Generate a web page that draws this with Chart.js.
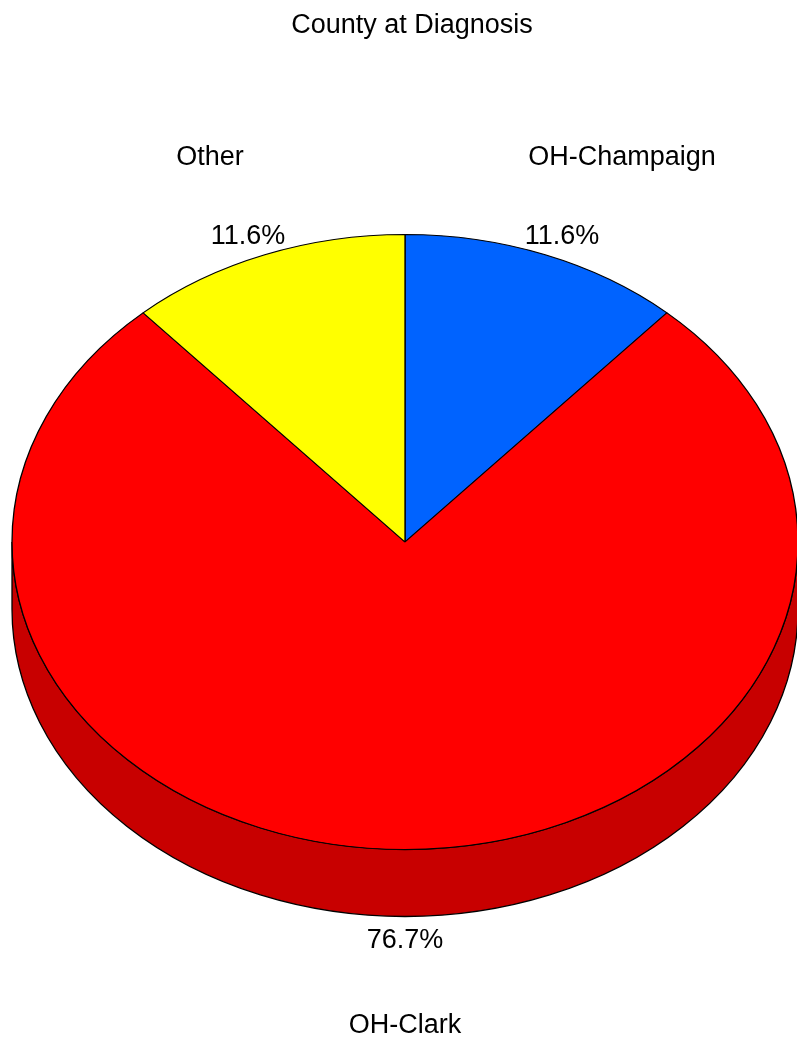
<!DOCTYPE html>
<html>
<head>
<meta charset="utf-8">
<script src="https://cdn.jsdelivr.net/npm/chart.js@4"></script>
<style>
  html, body { margin:0; padding:0; background:#fff; overflow:hidden; }
  #wrap { width:820px; height:1039px; }
</style>
</head>
<body>
<div id="wrap"><canvas id="c" width="820" height="1039"></canvas></div>
<script>
const titleText = 'County at Diagnosis';
const categories = ['OH-Champaign', 'OH-Clark', 'Other'];
const percents = [11.6, 76.7, 11.6];
const topColors = ['#0063FF', '#FF0000', '#FFFF00'];
const sideColors = ['#0050C8', '#C80000', '#C8C800'];

const TILT = 0.7824;   // vertical squash of the pie
const DEPTH = 67;      // thickness of the 3D side
const FONT = '27px "Liberation Sans", Arial, sans-serif';
// category label offsets from pie centre (text centre x, baseline y)
const catOffsets = [[217, -377], [0, 491], [-195, -377]];

const pie3d = {
  id: 'pie3d',
  beforeDatasetsDraw(chart) {
    const ctx = chart.ctx;
    const arcs = chart.getDatasetMeta(0).data;
    const cx = arcs[0].x, cy = arcs[0].y, r = arcs[0].outerRadius;
    // side walls (front half only)
    arcs.forEach((arc, i) => {
      const s = arc.startAngle, e = arc.endAngle;
      [-2 * Math.PI, 0, 2 * Math.PI].forEach(shift => {
        const lo = Math.max(s + shift, 0), hi = Math.min(e + shift, Math.PI);
        if (hi > lo) {
          ctx.save();
          ctx.beginPath();
          ctx.ellipse(cx, cy, r, r * TILT, 0, lo, hi, false);
          ctx.ellipse(cx, cy + DEPTH, r, r * TILT, 0, hi, lo, true);
          ctx.closePath();
          ctx.fillStyle = sideColors[i];
          ctx.fill();
          ctx.lineWidth = 1.3;
          ctx.strokeStyle = '#000';
          ctx.stroke();
          ctx.restore();
        }
      });
    });
    ctx.save();
    ctx.translate(0, cy);
    ctx.scale(1, TILT);
    ctx.translate(0, -cy);
  },
  afterDatasetsDraw(chart) {
    chart.ctx.restore();
  },
  afterDraw(chart) {
    const ctx = chart.ctx;
    const arcs = chart.getDatasetMeta(0).data;
    const cx = arcs[0].x, cy = arcs[0].y, r = arcs[0].outerRadius;
    ctx.save();
    ctx.fillStyle = '#000';
    ctx.font = FONT;
    ctx.textAlign = 'center';
    ctx.textBaseline = 'alphabetic';
    ctx.fillText(titleText, cx + 7, 33);
    arcs.forEach((arc, i) => {
      const a = (arc.startAngle + arc.endAngle) / 2;
      const sx = Math.cos(a), sy = Math.sin(a);
      const px = cx + 1.12 * r * sx;
      const py = cy + 1.07 * r * TILT * sy + (sy > 0 ? DEPTH : 0) + 9.6;
      ctx.fillText(percents[i].toFixed(1) + '%', px, py);
      ctx.fillText(categories[i], cx + catOffsets[i][0], cy + catOffsets[i][1]);
    });
    ctx.restore();
  }
};

new Chart(document.getElementById('c'), {
  type: 'pie',
  data: {
    labels: categories,
    datasets: [{
      data: percents,
      backgroundColor: topColors,
      borderColor: '#000',
      borderWidth: 1.3,
      hoverOffset: 0,
      radius: 393,
      clip: false
    }]
  },
  options: {
    responsive: false,
    animation: false,
    devicePixelRatio: 1,
    rotation: 0,
    layout: { padding: { left: 12, right: 22, top: 149, bottom: 104 } },
    plugins: {
      legend: { display: false },
      tooltip: { enabled: false },
      title: { display: false }
    },
    events: []
  },
  plugins: [pie3d]
});
</script>
</body>
</html>
